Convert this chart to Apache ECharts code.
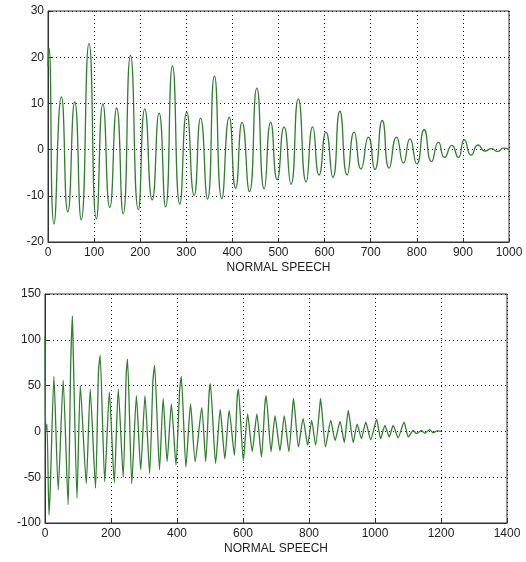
<!DOCTYPE html>
<html>
<head>
<meta charset="utf-8">
<script src="https://cdn.jsdelivr.net/npm/echarts@6/dist/echarts.min.js"></script>
<style>
html,body{margin:0;padding:0;background:#fff;}
#c{width:526px;height:562px;}
</style>
</head>
<body>
<div id="c"></div>
<script>
// Top panel: local extrema of the waveform
var topX = [0,2,13,29,43,58,72,89,105,119,134,149,163,179,196,210,226,241,255,270,286,301,317,331,346,361,377,393,407,421,437,453,469,483,497,512,527,543,560,574,588,603,618,633,649,664,679,695,709,725,740,756,771,785,800,816,832,847,860,876,890,903,918,933,948,962,975,988,1000];
var topY = [18,22,-16.1,11.4,-13.5,10.3,-15.2,23,-15,9.9,-12.5,9,-13.9,20.4,-13,8.8,-10.9,7.9,-12.4,18.1,-11.8,8.1,-9.9,6.8,-10.7,15.9,-10.6,7,-8.4,5.9,-9.1,13.3,-8.5,5.9,-6.5,4.9,-7.5,11,-7,4.9,-5.5,3.8,-6,8.3,-5.5,3.8,-4.2,2.7,-4.3,6.3,-4,2.7,-2.9,2.3,-3.1,4.3,-2.6,1.6,-1.7,0.9,-1.7,2.1,-1.2,1.0,-0.3,0.2,-0.4,0.3,0];

// Bottom panel: local extrema of the waveform
var botX = [0,2,6,12,16,27,40,55,70,78,83,86,97,107,125,137,153,162,167,181,195,210,222,237,246,250,263,277,290,303,317,327,332,347,358,370,383,397,408,413,427,441,455,475,487,497,501,517,531,545,558,574,582,586,601,614,628,642,656,666,670,685,697,712,725,739,750,753,768,782,796,808,820,832,835,850,866,879,894,907,919,934,946,959,972,987,1005,1017,1030,1043,1055,1070,1088,1101,1116,1126,1141,1151,1166,1176,1188,1200];
var botY = [104,0,8,-91,-62,60,-64,56,-80,75,126,80,-73,50,-57,46,-62,65,83,-55,43,-56,46,-50,62,79,-57,39,-42,39,-46,55,72,-42,36,-33,30,-37,45,60,-39,30,-33,26,-33,40,52,-35,24,-30,23,-26,35,46,-32,19,-22,19,-28,28,39,-22,17,-21,17,-22,25,36,-17,14,-15,12,-15,25,36,-17,12,-10,11,-12,23,-12,8,-8,10,-9,13,-8,6.5,-6,6.5,-7,10,-6,1,-2.5,1,-2,2,-1.5,0.5,0];

// Axis settings
var topXTicks = {min: 0, max: 1000, interval: 100};
var topYTicks = {min: -20, max: 30, interval: 10};
var botXTicks = {min: 0, max: 1400, interval: 200};
var botYTicks = {min: -100, max: 150, interval: 50};
var xTitle = 'NORMAL SPEECH';

function pairs(xs, ys) {
  var out = [];
  for (var i = 0; i < xs.length; i++) out.push([xs[i], ys[i]]);
  return out;
}

var FONT = 'Liberation Sans, Arial, sans-serif';
var lineColor = '#2f7f2f';
function plain(v) { return String(v); }

function xAxisCfg(gi, t, name) {
  return {
    type: 'value', gridIndex: gi, min: t.min, max: t.max, interval: t.interval,
    name: name, nameLocation: 'middle', nameGap: 20,
    nameTextStyle: {fontFamily: FONT, fontSize: 12, color: '#222'},
    axisLine: {show: true, onZero: false, lineStyle: {color: '#333', width: 1}},
    axisTick: {show: true, inside: true, length: 4, lineStyle: {color: '#333'}},
    axisLabel: {fontFamily: FONT, fontSize: 12, color: '#222', margin: 5, formatter: plain},
    splitLine: {show: true, lineStyle: {type: [1, 3], color: '#222', width: 1}}
  };
}
function yAxisCfg(gi, t) {
  return {
    type: 'value', gridIndex: gi, min: t.min, max: t.max, interval: t.interval,
    axisLine: {show: true, onZero: false, lineStyle: {color: '#333', width: 1}},
    axisTick: {show: true, inside: true, length: 4, lineStyle: {color: '#333'}},
    axisLabel: {fontFamily: FONT, fontSize: 12, color: '#222', margin: 4, formatter: plain},
    splitLine: {show: true, lineStyle: {type: [1, 3], color: '#222', width: 1}}
  };
}

var chart = echarts.init(document.getElementById('c'), null, {renderer: 'canvas'});
chart.setOption({
  animation: false,
  backgroundColor: '#fff',
  grid: [
    {left: 48, top: 11, width: 461, height: 231, show: true, borderColor: '#333', borderWidth: 1, backgroundColor: '#fff'},
    {left: 45, top: 294, width: 462, height: 229, show: true, borderColor: '#333', borderWidth: 1, backgroundColor: '#fff'}
  ],
  xAxis: [xAxisCfg(0, topXTicks, xTitle), xAxisCfg(1, botXTicks, xTitle)],
  yAxis: [yAxisCfg(0, topYTicks), yAxisCfg(1, botYTicks)],
  series: [
    {type: 'line', xAxisIndex: 0, yAxisIndex: 0, data: pairs(topX, topY), showSymbol: false,
     smooth: 0.6, lineStyle: {color: lineColor, width: 1.3}},
    {type: 'line', xAxisIndex: 1, yAxisIndex: 1, data: pairs(botX, botY), showSymbol: false,
     smooth: 0.2, lineStyle: {color: lineColor, width: 1.3}}
  ]
});
</script>
</body>
</html>
